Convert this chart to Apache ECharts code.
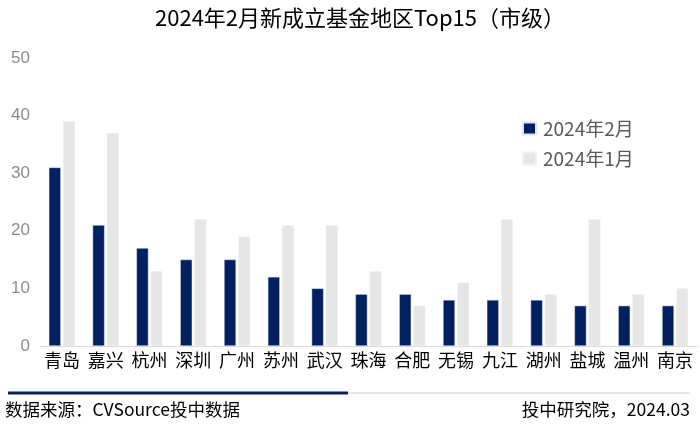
<!DOCTYPE html>
<html><head><meta charset="utf-8">
<script src="https://cdn.jsdelivr.net/npm/echarts@6/dist/echarts.min.js"></script>
<style>html,body{margin:0;padding:0;background:#fff}#c{width:700px;height:445px}</style>
</head><body><div id="c"></div>
<script>
const categories = ['青岛','嘉兴','杭州','深圳','广州','苏州','武汉','珠海','合肥','无锡','九江','湖州','盐城','温州','南京'];
const feb = [31,21,17,15,15,12,10,9,9,8,8,8,7,7,7];
const jan = [39,37,13,22,19,21,21,13,7,11,22,9,22,9,10];
const seriesNames = ['2024年2月','2024年1月'];
const yTicks = {min:0, max:50, interval:10};
const titleText = '2024年2月新成立基金地区Top15（市级）';
const sourceText = '数据来源：CVSource投中数据';
const creditText = '投中研究院，2024.03';
const FONT = '"Noto Sans CJK SC","Noto Sans",sans-serif';

const chart = echarts.init(document.getElementById('c'));
chart.setOption({
  animation:false,
  textStyle:{fontFamily:FONT},
  title:{text:titleText,left:150,top:2,textStyle:{fontFamily:FONT,fontSize:22,fontWeight:'normal',color:'#000'}},
  legend:{orient:'vertical',left:517,top:114,itemWidth:13,itemHeight:12,itemGap:11,icon:'rect',
    textStyle:{fontFamily:FONT,fontSize:19,color:'#595959',padding:[0,0,0,2]},data:seriesNames},
  grid:{left:40,right:3,top:58,bottom:99},
  xAxis:{type:'category',data:categories,axisTick:{show:false},
    axisLine:{lineStyle:{color:'#d9d9d9',width:1}},
    axisLabel:{color:'#000',fontSize:18,margin:5,fontFamily:FONT,interval:0}},
  yAxis:{type:'value',min:yTicks.min,max:yTicks.max,interval:yTicks.interval,
    splitLine:{show:false},axisLine:{show:false},axisTick:{show:false},
    axisLabel:{color:'#8c8c8c',fontSize:17,margin:10,fontFamily:'Liberation Sans, Arial, sans-serif'}},
  series:[
    {name:seriesNames[0],type:'bar',data:feb,barWidth:12,barGap:'18%',
      itemStyle:{color:'#002060',borderColor:'#dfe5ee',borderWidth:0.5}},
    {name:seriesNames[1],type:'bar',data:jan,barWidth:12,
      itemStyle:{color:'#e6e6e6',borderColor:'#f2f2f2',borderWidth:0.5}}
  ],
  graphic:[
    {type:'rect',shape:{x:8,y:391.5,width:340,height:3},style:{fill:'#0a1f5c'}},
    {type:'rect',shape:{x:348,y:392,width:342,height:2},style:{fill:'#e6e6e6'}},
    {type:'text',left:5,top:401,style:{text:sourceText,fontSize:17.5,fill:'#000',fontFamily:FONT}},
    {type:'text',right:10,top:401,style:{text:creditText,fontSize:17.5,fill:'#000',fontFamily:FONT}}
  ]
});
</script></body></html>
